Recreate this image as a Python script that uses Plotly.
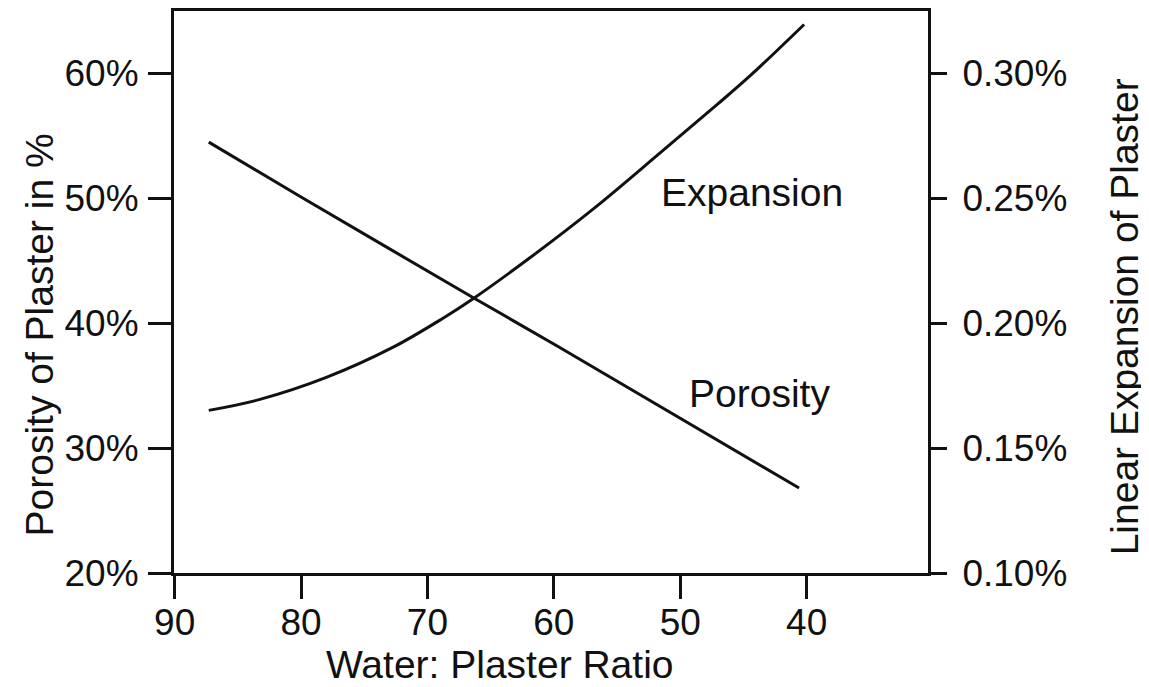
import plotly.graph_objects as go

# Water:Plaster ratio values (x) and readings
porosity_x = [87.3, 80.0, 66.3, 59.6, 40.6]
porosity_y = [54.5, 50.1, 42.0, 38.1, 26.8]                 # % porosity (left axis)

expansion_x = [87.3, 83.25, 78.0, 72.75, 68.8, 66.3, 62.0, 56.75, 51.5, 47.0, 44.4, 40.2]
expansion_y = [0.1651, 0.1695, 0.1783, 0.1903, 0.2019, 0.2101, 0.2258, 0.2463,
               0.2686, 0.2879, 0.2994, 0.3196]              # % linear expansion (right axis)

x_ticks = [90, 80, 70, 60, 50, 40]
left_ticks = [20, 30, 40, 50, 60]
right_ticks = [0.10, 0.15, 0.20, 0.25, 0.30]
right_ticktext = ["0.10%", "0.15%", "0.20%", "0.25%", "0.30%"]

FONT = "Liberation Sans, Arial, sans-serif"
TFS = 37
LFS = 39
BLACK = "#111111"

fig = go.Figure()
fig.add_trace(go.Scatter(x=porosity_x, y=porosity_y, mode="lines",
                         line=dict(color=BLACK, width=3, shape="spline", smoothing=0.5),
                         yaxis="y", showlegend=False, hoverinfo="skip"))
fig.add_trace(go.Scatter(x=expansion_x, y=expansion_y, mode="lines",
                         line=dict(color=BLACK, width=3, shape="spline", smoothing=1.0),
                         yaxis="y2", showlegend=False, hoverinfo="skip"))

def axis_common(ticklen):
    return dict(showline=True, linecolor=BLACK, linewidth=3, ticks="outside",
                ticklen=ticklen, tickwidth=2.5, tickcolor=BLACK, showgrid=False,
                zeroline=False, tickfont=dict(family=FONT, size=TFS, color=BLACK))

fig.update_layout(
    width=1149, height=687,
    margin=dict(l=166, r=229, t=0, b=122),
    paper_bgcolor="white", plot_bgcolor="white",
    xaxis=dict(range=[90.05, 30.4], tickvals=x_ticks, ticktext=[str(v) for v in x_ticks],
               mirror=True, ticklabelstandoff=-8, **axis_common(23)),
    yaxis=dict(range=[20, 65], tickvals=left_ticks,
               ticktext=[f"{v}%" for v in left_ticks], mirror=False,
               ticklabelstandoff=2, **axis_common(23)),
    yaxis2=dict(range=[0.10, 0.325], tickvals=right_ticks, ticktext=right_ticktext,
                overlaying="y", side="right", ticklabelstandoff=8, **axis_common(16)),
    annotations=[
        dict(text="Expansion", x=44.3, y=50.5, xref="x", yref="y", showarrow=False,
             xanchor="center", yanchor="middle",
             font=dict(family=FONT, size=LFS, color=BLACK)),
        dict(text="Porosity", x=43.7, y=34.4, xref="x", yref="y", showarrow=False,
             xanchor="center", yanchor="middle",
             font=dict(family=FONT, size=LFS, color=BLACK)),
        dict(text="Water: Plaster Ratio", x=0.432, y=-0.162, xref="paper", yref="paper",
             xanchor="center", yanchor="middle",
             showarrow=False, font=dict(family=FONT, size=LFS, color=BLACK)),
        dict(text="Porosity of Plaster in %", x=-0.178, y=0.424, xref="paper", yref="paper",
             xanchor="center", yanchor="middle",
             textangle=-90, showarrow=False, font=dict(family=FONT, size=LFS, color=BLACK)),
        dict(text="Linear Expansion of Plaster", x=1.26, y=0.455, xref="paper", yref="paper",
             xanchor="center", yanchor="middle",
             textangle=-90, showarrow=False, font=dict(family=FONT, size=LFS, color=BLACK)),
    ],
)

fig.write_html("out.html")
